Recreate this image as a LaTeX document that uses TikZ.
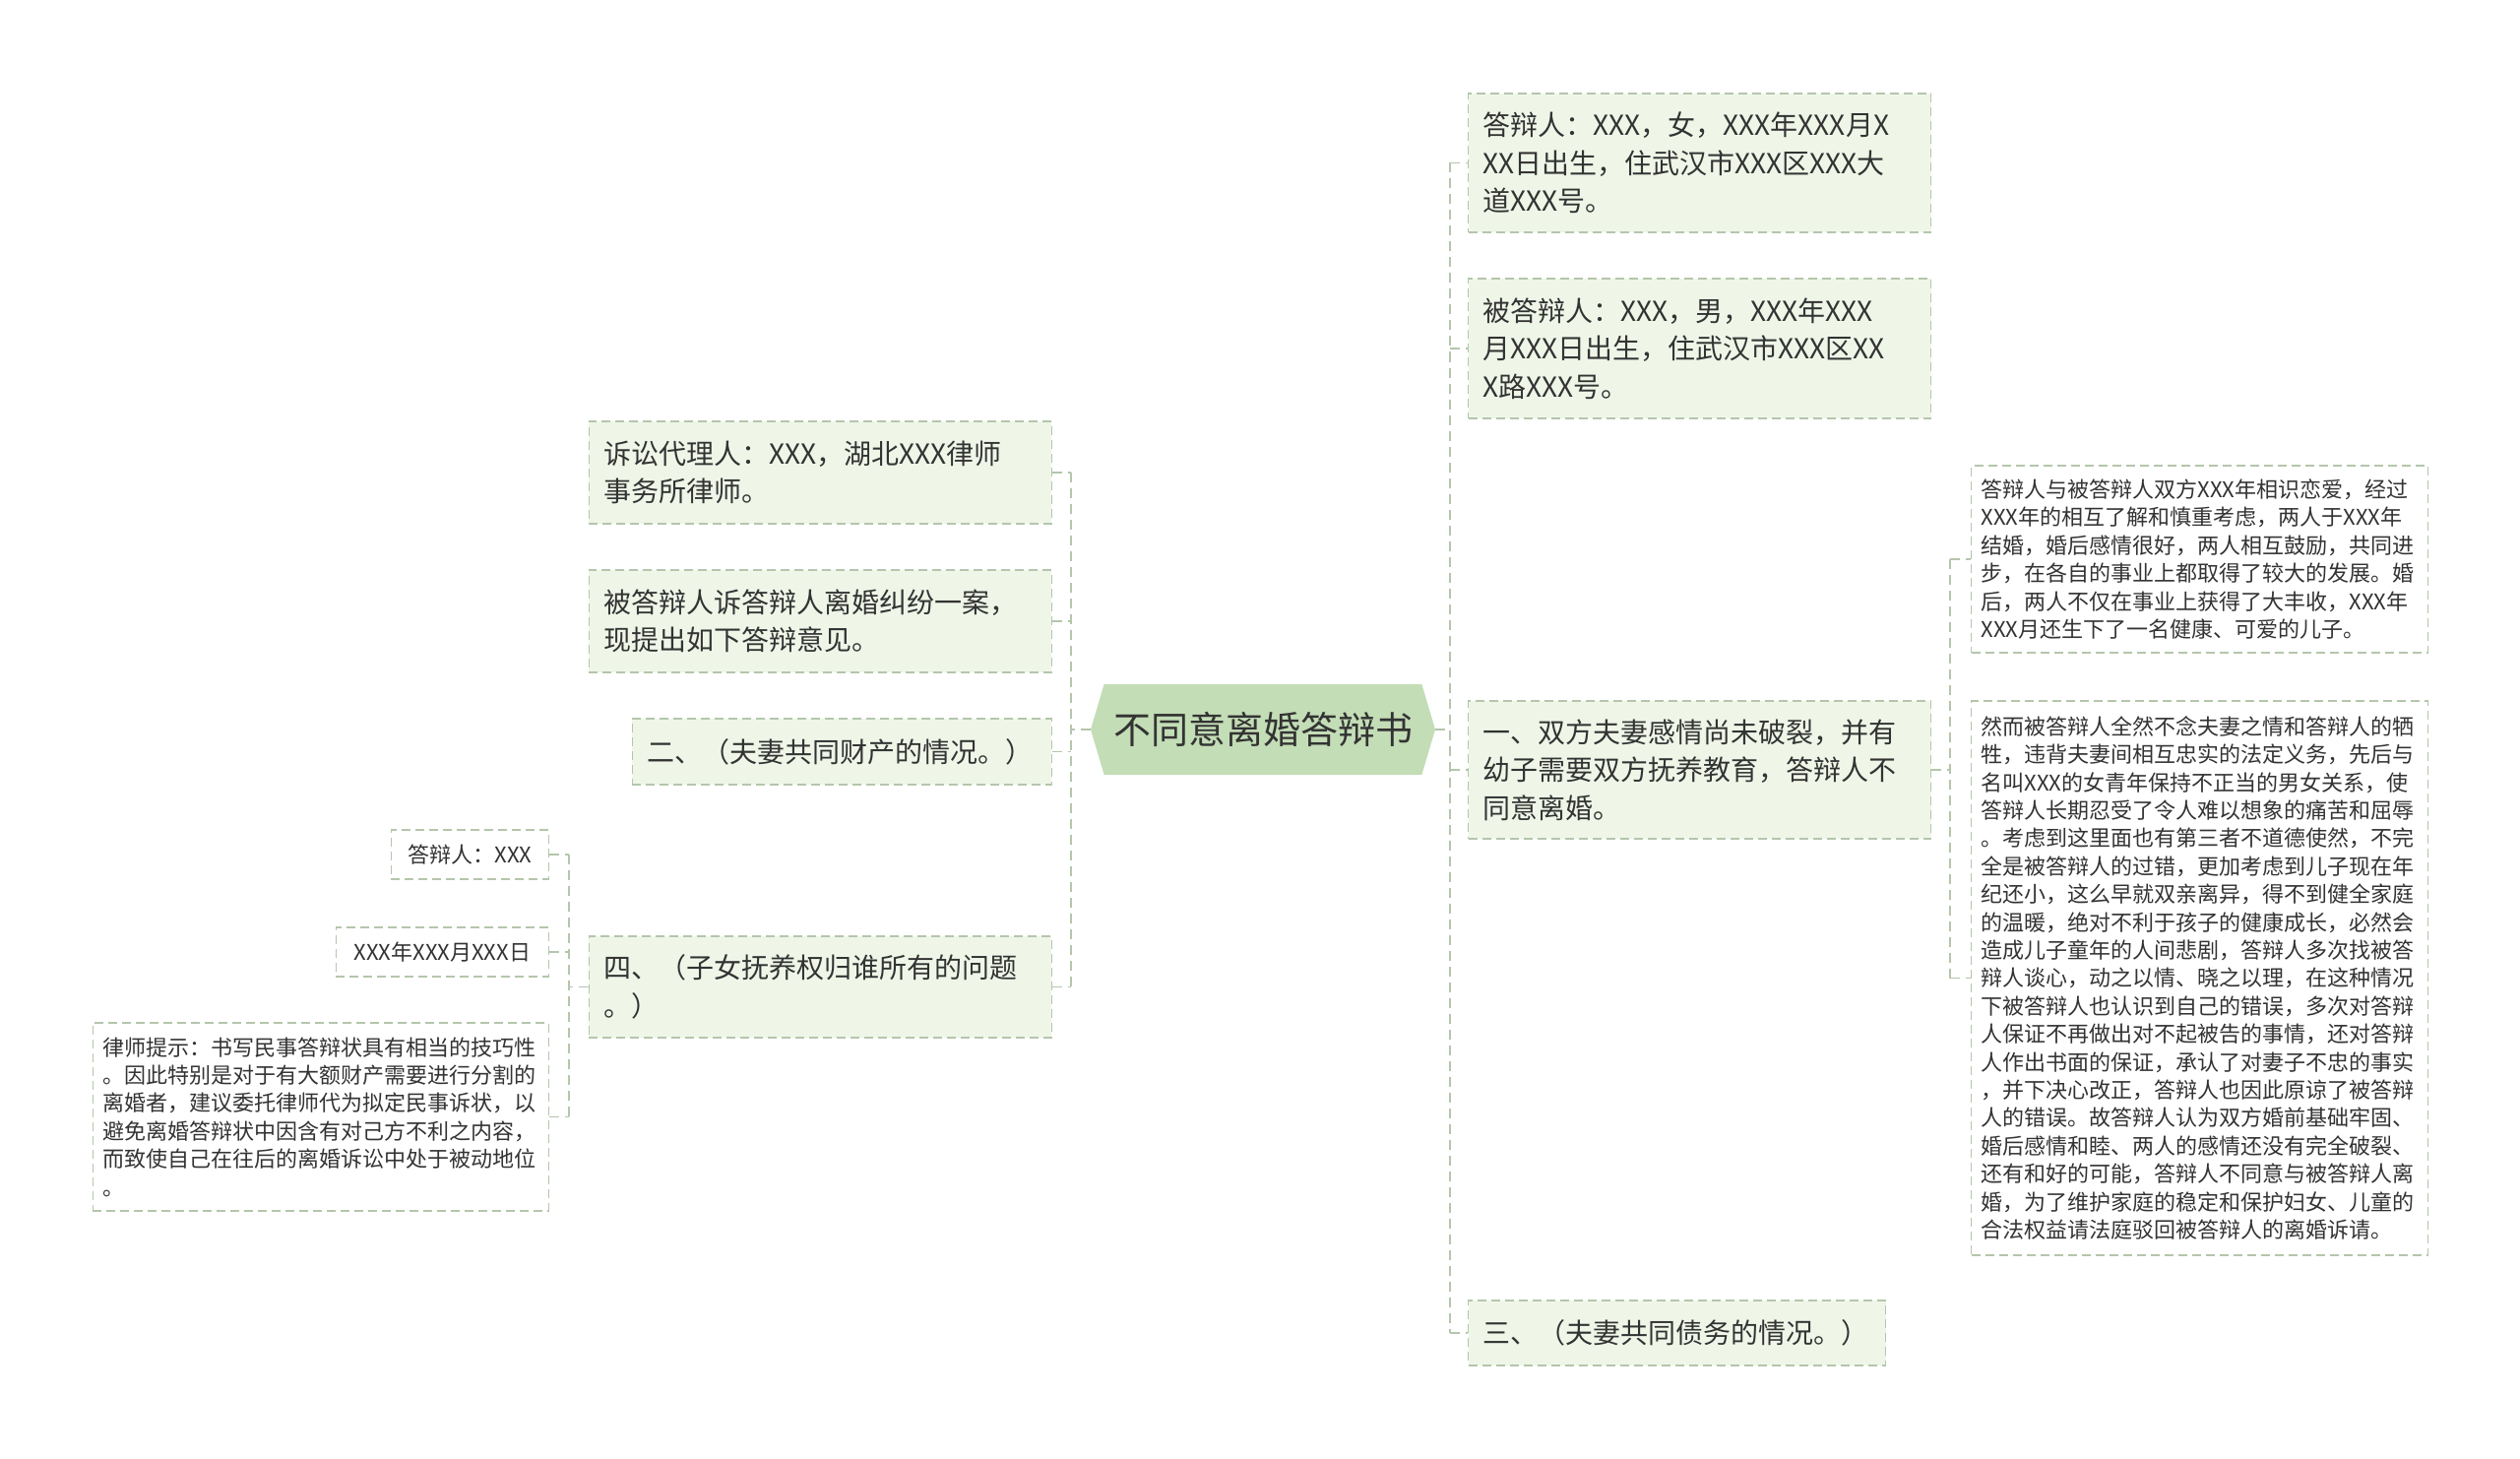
\documentclass[tikz,border=0pt]{standalone}
\usepackage{fontspec}
\setmainfont{Noto Sans CJK SC}
\usetikzlibrary{shapes.symbols}
\definecolor{boxfill}{HTML}{EFF6E8}
\definecolor{linecol}{HTML}{B4C6AC}
\definecolor{rootfill}{HTML}{C3DDB6}
\definecolor{textcol}{HTML}{333333}
\tikzset{
	topicbox/.style = {
		draw = linecol,
		fill = boxfill,
		rectangle,
		dash pattern = on 4.5pt off 2.5pt,
		line width = 0.6pt,
		align = left,
		text = textcol,
		inner xsep = 7.5pt,
		font = \fontsize{14pt}{19.2pt}\selectfont
	},
	leafbox/.style = {
		topicbox,
		fill = white,
		inner xsep = 5pt,
		font = \fontsize{11pt}{14.2pt}\selectfont
	},
	rootbox/.style = {
		signal,
		signal to = west and east,
		signal pointer angle = 147,
		fill = rootfill,
		text = textcol,
		minimum width = 175pt,
		minimum height = 46pt,
		inner xsep = 4pt,
		font = \fontsize{19pt}{23pt}\selectfont
	},
	link/.style = {
		draw = linecol,
		line width = 0.9pt,
		dash pattern = on 5pt off 3pt
	}
}

\begin{document}
\begin{tikzpicture}[x=0.5pt, y=-0.5pt]
    \useasboundingbox (0,0) rectangle (2560,1482);

    \node [rootbox] (root) at (1283,741) {不同意离婚答辩书};

    % right branch
    \node [topicbox, anchor=west, text width=220pt, minimum height=70.5pt] (defendant) at (1491,165.5) {答辩人：XXX，女，XXX年XXX月X\\XX日出生，住武汉市XXX区XXX大\\道XXX号。};
    \node [topicbox, anchor=west, text width=220pt, minimum height=71pt] (plaintiff) at (1491,354) {被答辩人：XXX，男，XXX年XXX\\月XXX日出生，住武汉市XXX区XX\\X路XXX号。};
    \node [topicbox, anchor=west, text width=220pt, minimum height=70pt] (feeling) at (1491,782) {一、双方夫妻感情尚未破裂，并有\\幼子需要双方抚养教育，答辩人不\\同意离婚。};
    \node [topicbox, anchor=west, text width=197pt, minimum height=33pt] (debt) at (1491,1354) {三、（夫妻共同债务的情况。）};

    \node [leafbox, anchor=west, text width=222pt, minimum height=95pt] (history) at (2002,568) {答辩人与被答辩人双方XXX年相识恋爱，经过\\XXX年的相互了解和慎重考虑，两人于XXX年\\结婚，婚后感情很好，两人相互鼓励，共同进\\步，在各自的事业上都取得了较大的发展。婚\\后，两人不仅在事业上获得了大丰收，XXX年\\XXX月还生下了一名健康、可爱的儿子。};
    \node [leafbox, anchor=west, text width=222pt, minimum height=281.5pt] (betrayal) at (2002,993.5) {然而被答辩人全然不念夫妻之情和答辩人的牺\\牲，违背夫妻间相互忠实的法定义务，先后与\\名叫XXX的女青年保持不正当的男女关系，使\\答辩人长期忍受了令人难以想象的痛苦和屈辱\\。考虑到这里面也有第三者不道德使然，不完\\全是被答辩人的过错，更加考虑到儿子现在年\\纪还小，这么早就双亲离异，得不到健全家庭\\的温暖，绝对不利于孩子的健康成长，必然会\\造成儿子童年的人间悲剧，答辩人多次找被答\\辩人谈心，动之以情、晓之以理，在这种情况\\下被答辩人也认识到自己的错误，多次对答辩\\人保证不再做出对不起被告的事情，还对答辩\\人作出书面的保证，承认了对妻子不忠的事实\\，并下决心改正，答辩人也因此原谅了被答辩\\人的错误。故答辩人认为双方婚前基础牢固、\\婚后感情和睦、两人的感情还没有完全破裂、\\还有和好的可能，答辩人不同意与被答辩人离\\婚，为了维护家庭的稳定和保护妇女、儿童的\\合法权益请法庭驳回被答辩人的离婚诉请。};

    % left branch
    \node [topicbox, anchor=east, text width=220pt, minimum height=52pt] (agent) at (1069,480) {诉讼代理人：XXX，湖北XXX律师\\事务所律师。};
    \node [topicbox, anchor=east, text width=220pt, minimum height=52pt] (intro) at (1069,631) {被答辩人诉答辩人离婚纠纷一案，\\现提出如下答辩意见。};
    \node [topicbox, anchor=east, text width=198pt, minimum height=33.5pt] (property) at (1069,763.5) {二、（夫妻共同财产的情况。）};
    \node [topicbox, anchor=east, text width=220pt, minimum height=51.5pt] (child) at (1069,1002.5) {四、（子女抚养权归谁所有的问题\\。）};

    \node [leafbox, anchor=east, align=center, minimum width=80pt, minimum height=25pt] (sign) at (558,868) {答辩人：XXX};
    \node [leafbox, anchor=east, align=center, minimum width=108pt, minimum height=25pt] (date) at (558,967) {XXX年XXX月XXX日};
    \node [leafbox, anchor=east, text width=221.5pt, minimum height=95.5pt] (tip) at (558,1134.5) {律师提示：书写民事答辩状具有相当的技巧性\\。因此特别是对于有大额财产需要进行分割的\\离婚者，建议委托律师代为拟定民事诉状，以\\避免离婚答辩状中因含有对己方不利之内容，\\而致使自己在往后的离婚诉讼中处于被动地位\\。};

    % trunks
    \coordinate (rtrunk) at (1473,741);
    \coordinate (ltrunk) at (1088,741);
    \coordinate (kidtrunk) at (1981,782);
    \coordinate (signtrunk) at (578,1002);

    \draw [link] (root.east) -- (rtrunk);
    \draw [link] (rtrunk |- defendant.west) -- (rtrunk |- debt.west);
    \foreach \n in {defendant, plaintiff, feeling, debt}
        \draw [link] (rtrunk |- \n.west) -- (\n.west);

    \draw [link] (feeling.east) -- (kidtrunk |- feeling.east);
    \draw [link] (kidtrunk |- history.west) -- (kidtrunk |- betrayal.west);
    \foreach \n in {history, betrayal}
        \draw [link] (kidtrunk |- \n.west) -- (\n.west);

    \draw [link] (root.west) -- (ltrunk);
    \draw [link] (ltrunk |- agent.east) -- (ltrunk |- child.east);
    \foreach \n in {agent, intro, property, child}
        \draw [link] (\n.east) -- (ltrunk |- \n.east);

    \draw [link] (child.west) -- (signtrunk |- child.west);
    \draw [link] (signtrunk |- sign.east) -- (signtrunk |- tip.east);
    \foreach \n in {sign, date, tip}
        \draw [link] (\n.east) -- (signtrunk |- \n.east);
\end{tikzpicture}
\end{document}
